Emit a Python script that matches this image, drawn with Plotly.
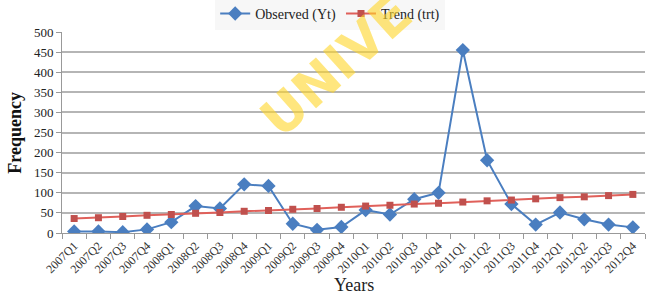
import plotly.graph_objects as go

quarters = ["2007Q1","2007Q2","2007Q3","2007Q4","2008Q1","2008Q2","2008Q3","2008Q4",
            "2009Q1","2009Q2","2009Q3","2009Q4","2010Q1","2010Q2","2010Q3","2010Q4",
            "2011Q1","2011Q2","2011Q3","2011Q4","2012Q1","2012Q2","2012Q3","2012Q4"]
observed = [4, 4, 2, 9, 27, 67, 61, 121, 117, 23, 8, 15, 57, 46, 84, 100,
            455, 181, 72, 21, 51, 34, 21, 14]
trend = [36, 38, 41, 44, 46, 49, 51, 54, 56, 59, 61, 64, 67, 69, 72, 74,
         77, 80, 82, 85, 88, 90, 93, 96]

FONT = "Liberation Serif, Times New Roman, serif"

fig = go.Figure()
fig.add_trace(go.Scatter(x=quarters, y=observed, name="Observed (Yt)", mode="lines+markers",
                         line=dict(color="#4A7EC0", width=2),
                         marker=dict(symbol="diamond", size=11, color="#4A7EC0")))
fig.add_trace(go.Scatter(x=quarters, y=trend, name="Trend (trt)", mode="lines+markers",
                         line=dict(color="#E0605A", width=2),
                         marker=dict(symbol="square", size=7, color="#C0504D")))

fig.update_layout(
    width=648, height=294,
    margin=dict(l=62, r=3, t=32, b=61, autoexpand=False),
    paper_bgcolor="white", plot_bgcolor="white",
    font=dict(family=FONT, color="#222"),
    showlegend=True,
    legend=dict(orientation="h", x=0.46, xanchor="center", y=1.09, yanchor="middle",
                font=dict(family=FONT, size=14, color="#222"),
                bgcolor="rgba(244,244,244,0.7)", tracegroupgap=0, itemwidth=30),
    xaxis=dict(type="category", range=[-0.5, len(quarters) - 0.5],
               showgrid=False, showline=True, linecolor="#999",
               automargin=False,
               ticks="outside", tickson="boundaries", ticklen=5, tickcolor="#999",
               tickangle=-45, tickfont=dict(family=FONT, size=12, color="#333")),
    yaxis=dict(range=[0, 500], dtick=50, showgrid=True, gridcolor="#B5B5B5", gridwidth=1.5,
               automargin=False,
               showline=True, linecolor="#999", ticks="outside", ticklen=5, tickcolor="#999",
               tickfont=dict(family=FONT, size=13, color="#222"),
               zeroline=False),
)

fig.add_annotation(text="Years", xref="paper", yref="paper", x=0.5, y=-0.26,
                   xanchor="center", yanchor="middle", showarrow=False,
                   font=dict(family=FONT, size=18, color="#222"))
fig.add_annotation(text="<b>Frequency</b>", xref="paper", yref="paper", x=-0.082, y=0.5,
                   xanchor="center", yanchor="middle", showarrow=False, textangle=-90,
                   font=dict(family=FONT, size=18, color="#111"))
fig.add_annotation(text="<b>UNIVE</b>", xref="paper", yref="paper", x=0.47, y=0.83,
                   xanchor="center", yanchor="middle",
                   showarrow=False, textangle=-42,
                   font=dict(family="DejaVu Sans, sans-serif", size=52, color="rgba(255,214,40,0.6)"))

fig.write_html("out.html", config={"displayModeBar": False},
               post_script="document.body.style.margin='0';")
